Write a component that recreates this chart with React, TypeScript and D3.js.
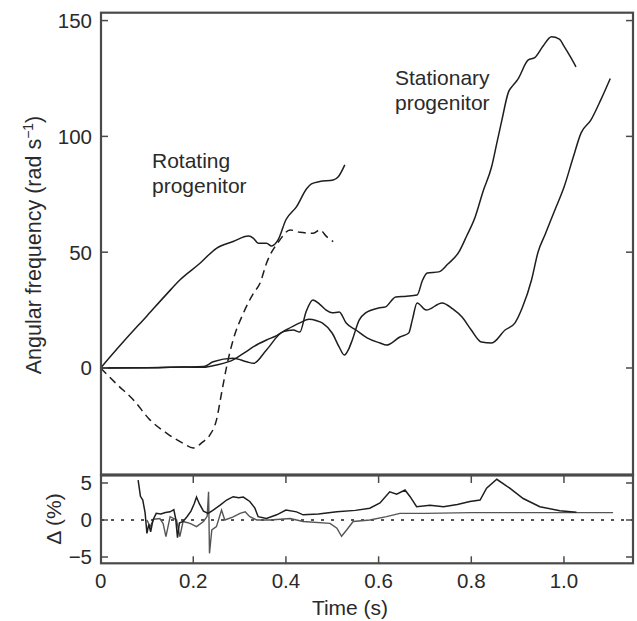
import React from 'react';
import * as d3 from 'd3';

type P = [number, number];

// Top panel: angular frequency (rad/s) vs time (s)
const rotatingSolid: P[] = [[0,0],[0.05,11.5],[0.1,22.5],[0.143,32],[0.171,38],[0.2145,45.2],[0.25,51.7],[0.286,54.6],[0.319,57],[0.33,56],[0.34,53.9],[0.358,53.9],[0.369,52.7],[0.383,55.3],[0.40,64],[0.423,69.7],[0.445,77.5],[0.455,79.5],[0.473,80.5],[0.502,81.2],[0.513,82.6],[0.527,87.7]];
const rotatingDashed: P[] = [[0,0],[0.035,-7],[0.071,-13.8],[0.107,-22.5],[0.143,-28.2],[0.178,-32.5],[0.2,-34.5],[0.22,-32],[0.236,-28.9],[0.25,-22.5],[0.261,-10.9],[0.272,0.6],[0.286,12.1],[0.308,23.6],[0.33,32.3],[0.344,36.6],[0.358,45.2],[0.387,55.3],[0.409,59.6],[0.43,58.6],[0.459,58.2],[0.473,59.6],[0.488,56.7],[0.502,54.6]];
const stationaryA: P[] = [[0,0],[0.1,0.1],[0.18,0.4],[0.222,0.3],[0.25,1.3],[0.286,3.5],[0.31,6.5],[0.33,9.2],[0.358,12.1],[0.38,14],[0.40,16.4],[0.43,19.5],[0.45,21],[0.465,20.5],[0.479,19.4],[0.5,15],[0.515,9],[0.526,5.6],[0.535,8],[0.543,12],[0.558,20.7],[0.572,23.8],[0.6,25.9],[0.615,26.4],[0.637,30.7],[0.66,31],[0.683,31.5],[0.695,38],[0.705,41],[0.73,41.5],[0.75,45],[0.773,50],[0.79,57],[0.808,65],[0.825,76],[0.844,87],[0.855,97],[0.866,107],[0.88,119],[0.89,122],[0.90,124.5],[0.923,133],[0.937,134],[0.955,139],[0.973,143],[0.99,142],[1.0,139],[1.015,134],[1.026,130]];
const stationaryB: P[] = [[0,0],[0.1,0.1],[0.18,0.4],[0.222,0.6],[0.243,2.7],[0.286,4.2],[0.315,2.7],[0.33,2],[0.358,7.8],[0.394,15.7],[0.416,16.4],[0.43,15.5],[0.443,24],[0.458,29.4],[0.473,27.5],[0.487,25],[0.5,23.8],[0.515,24.2],[0.53,19.4],[0.551,16.4],[0.575,13],[0.603,10.8],[0.617,9.9],[0.646,13.4],[0.665,15.1],[0.673,21],[0.683,28.1],[0.703,25],[0.737,28.1],[0.76,25.5],[0.78,22],[0.8,16.4],[0.822,11.2],[0.844,10.8],[0.873,16.4],[0.894,19.4],[0.91,26],[0.93,38],[0.944,50],[0.96,58],[0.98,68],[1.0,78],[1.02,91],[1.037,101.5],[1.058,107],[1.08,116],[1.10,125]];

// Bottom panel: Δ (%) vs time (s)
const deltaA: P[] = [[0.081,5.4],[0.086,3.2],[0.091,2.7],[0.096,1.0],[0.100,-1.8],[0.104,-0.6],[0.108,-1.6],[0.113,0.0],[0.120,0.9],[0.13,0.8],[0.14,1.0],[0.15,1.1],[0.158,1.4],[0.162,0.2],[0.166,-2.4],[0.17,-0.4],[0.178,-0.2],[0.186,0.4],[0.195,1.2],[0.202,2.2],[0.207,3.1],[0.213,2.2],[0.222,1.2],[0.232,0.9],[0.243,1.35],[0.258,2.0],[0.272,2.7],[0.286,3.15],[0.298,3.0],[0.308,3.1],[0.322,2.5],[0.333,1.6],[0.34,0.45],[0.358,0.2],[0.38,0.7],[0.40,1.35],[0.423,1.1],[0.437,0.7],[0.47,0.8],[0.51,1.1],[0.55,1.3],[0.581,1.6],[0.603,2.3],[0.624,3.8],[0.639,3.5],[0.657,4.05],[0.668,3.15],[0.682,1.8],[0.711,2.0],[0.74,1.8],[0.77,2.1],[0.797,2.5],[0.819,2.7],[0.833,4.3],[0.855,5.5],[0.883,4.3],[0.912,2.9],[0.948,1.8],[0.991,1.26],[1.027,1.04]];
const deltaB: P[] = [[0.1,0.0],[0.107,-0.9],[0.115,0.1],[0.128,0.2],[0.135,-0.5],[0.141,-2.25],[0.15,0.45],[0.164,0.0],[0.171,-2.25],[0.178,-0.2],[0.193,-0.45],[0.207,-0.9],[0.222,-0.2],[0.230,0.5],[0.233,3.8],[0.235,-4.5],[0.24,-1.35],[0.25,-0.9],[0.261,1.35],[0.268,0.0],[0.285,0.4],[0.301,0.9],[0.312,1.1],[0.322,0.45],[0.337,0.0],[0.366,0.0],[0.409,0.2],[0.437,-0.2],[0.495,-0.45],[0.51,-1.1],[0.52,-2.2],[0.531,-1.35],[0.545,-0.2],[0.581,0.0],[0.617,0.45],[0.646,0.9],[0.7,0.9],[0.8,1.0],[0.9,1.0],[1.0,1.0],[1.106,1.0]];

const xTicks = [0, 0.2, 0.4, 0.6, 0.8, 1.0];
const xTickLabels = ['0', '0.2', '0.4', '0.6', '0.8', '1.0'];
const yTopTicks = [0, 50, 100, 150];
const yTopTickLabels = ['0', '50', '100', '150'];
const yBotTicks = [-5, 0, 5];
const yBotTickLabels = ['\u22125', '0', '5'];

const W = 637, H = 621;
const L = 101, R = 633;
const TOP0 = 12.7, MID = 475, BOT1 = 563.3;

const x = d3.scaleLinear().domain([0, 1.149]).range([100.6, 633]);
const yTop = d3.scaleLinear().domain([-46.2, 153.4]).range([MID, TOP0]);
const yBot = d3.scaleLinear().domain([-5.85, 6.08]).range([BOT1, MID]);

const lineTop = d3.line<P>().x(d => x(d[0])).y(d => yTop(d[1])).curve(d3.curveMonotoneX);
const lineBot = d3.line<P>().x(d => x(d[0])).y(d => yBot(d[1]));

const FONT = '"Liberation Sans", Arial, Helvetica, sans-serif';
const TXT = '#2a2a2a';
const FRAME = '#4a4a4a';
const INK = '#1e1e1e';

export default function App() {
  return (
    <svg width={W} height={H} style={{ position: 'absolute', left: 0, top: 0, background: '#fff' }} fontFamily={FONT}>
      <rect x={0} y={0} width={W} height={H} fill="#fff" />
      {/* data lines top */}
      <path d={lineTop(rotatingSolid) || ''} fill="none" stroke={INK} strokeWidth={1.5} />
      <path d={lineTop(rotatingDashed) || ''} fill="none" stroke={INK} strokeWidth={1.5} strokeDasharray="8,5" />
      <path d={lineTop(stationaryA) || ''} fill="none" stroke={INK} strokeWidth={1.5} />
      <path d={lineTop(stationaryB) || ''} fill="none" stroke={INK} strokeWidth={1.5} />
      {/* bottom panel */}
      <line x1={L} x2={R} y1={yBot(0)} y2={yBot(0)} stroke={INK} strokeWidth={1.5} strokeDasharray="3,7" />
      <path d={lineBot(deltaB) || ''} fill="none" stroke="#555" strokeWidth={1.4} />
      <path d={lineBot(deltaA) || ''} fill="none" stroke={INK} strokeWidth={1.5} />

      {/* frames */}
      <rect x={L} y={TOP0} width={R - L} height={MID - TOP0} fill="none" stroke={FRAME} strokeWidth={2.2} />
      <rect x={L} y={MID} width={R - L} height={BOT1 - MID} fill="none" stroke={FRAME} strokeWidth={2.2} />
      <line x1={L} x2={R} y1={MID} y2={MID} stroke={FRAME} strokeWidth={3} />

      {/* top panel y ticks */}
      {yTopTicks.map((v, i) => (
        <g key={'yt' + v}>
          <line x1={L} x2={L + 7} y1={yTop(v)} y2={yTop(v)} stroke={FRAME} strokeWidth={1.5} />
          <line x1={R - 7} x2={R} y1={yTop(v)} y2={yTop(v)} stroke={FRAME} strokeWidth={1.5} />
          <text x={92} y={yTop(v)} dy="0.36em" textAnchor="end" fontSize={20.5} fill={TXT}>{yTopTickLabels[i]}</text>
        </g>
      ))}
      {/* bottom panel y ticks */}
      {yBotTicks.map((v, i) => (
        <g key={'yb' + v}>
          <line x1={L} x2={L + 7} y1={yBot(v)} y2={yBot(v)} stroke={FRAME} strokeWidth={1.5} />
          <line x1={R - 7} x2={R} y1={yBot(v)} y2={yBot(v)} stroke={FRAME} strokeWidth={1.5} />
          <text x={92} y={yBot(v)} dy="0.36em" textAnchor="end" fontSize={20.5} fill={TXT}>{yBotTickLabels[i]}</text>
        </g>
      ))}
      {/* x ticks */}
      {xTicks.map((v, i) => (
        <g key={'xt' + v}>
          {v > 0 && <line x1={x(v)} x2={x(v)} y1={MID} y2={MID + 8} stroke={FRAME} strokeWidth={1.5} />}
          {v > 0 && <line x1={x(v)} x2={x(v)} y1={BOT1 - 7} y2={BOT1} stroke={FRAME} strokeWidth={1.5} />}
          <text x={x(v)} y={588} textAnchor="middle" fontSize={20.5} fill={TXT}>{xTickLabels[i]}</text>
        </g>
      ))}

      {/* axis titles */}
      <text x={350} y={615} textAnchor="middle" fontSize={21} fill={TXT}>Time (s)</text>
      <text transform={`translate(41,245) rotate(-90)`} textAnchor="middle" fontSize={21.5} fill={TXT}>
        Angular frequency (rad s<tspan fontSize={14} dy={-8}>{'\u22121'}</tspan><tspan dy={8}>)</tspan>
      </text>
      <text transform={`translate(61,519) rotate(-90)`} textAnchor="middle" fontSize={21} fill={TXT}>Δ (%)</text>

      {/* annotations */}
      <text x={152} y={168} fontSize={21} fill={TXT}>Rotating</text>
      <text x={152} y={193} fontSize={21} fill={TXT}>progenitor</text>
      <text x={395} y={85} fontSize={21} fill={TXT}>Stationary</text>
      <text x={395} y={110} fontSize={21} fill={TXT}>progenitor</text>
    </svg>
  );
}
